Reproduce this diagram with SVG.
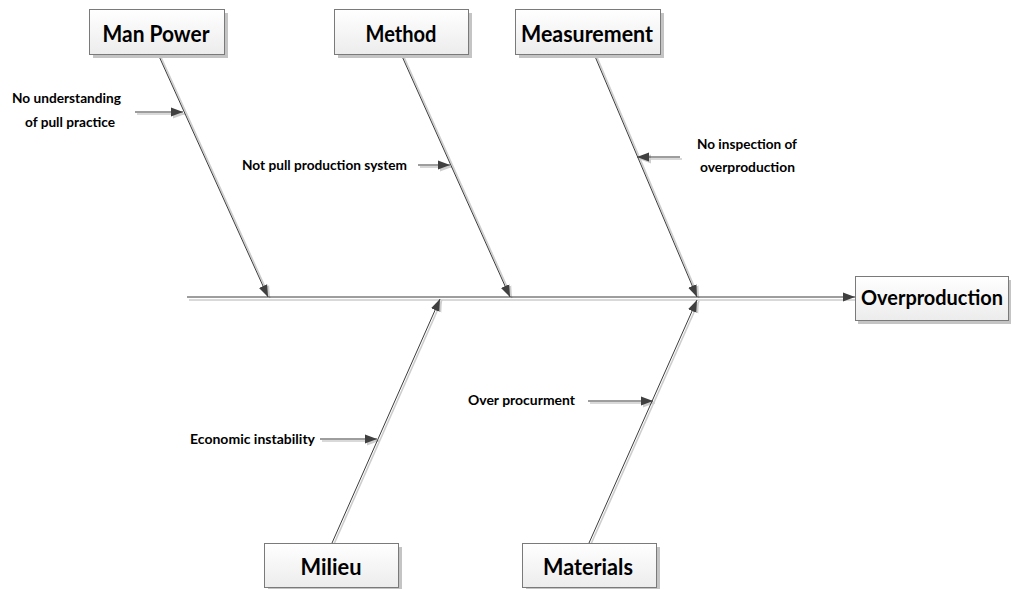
<svg xmlns="http://www.w3.org/2000/svg" width="1015" height="589" viewBox="0 0 1015 589">
  <style>
    .box { fill: url(#boxFill); stroke: #7a7a7a; stroke-width: 1; }
    .boxShadow { fill: #c4c4c4; }
    .title { font-family: Lato, "Open Sans", sans-serif; font-weight: bold; font-size: 22px; fill: #000; text-anchor: middle; }
    .label { font-family: Lato, "Open Sans", sans-serif; font-weight: bold; font-size: 13px; fill: #000; }
    .line { stroke: #3c3c3c; stroke-width: 1; fill: none; }
    .shadow { stroke: #cdcdcd; stroke-width: 1.6; fill: none; }
  </style>
  <defs>
    <linearGradient id="boxFill" x1="0" y1="0" x2="0" y2="1">
      <stop offset="0" stop-color="#ffffff"/>
      <stop offset="1" stop-color="#ececec"/>
    </linearGradient>
    <marker id="head" markerUnits="userSpaceOnUse" markerWidth="13" markerHeight="10" refX="12" refY="5" orient="auto">
      <path d="M0,0.5 L12,5 L0,9.5 Z" fill="#404040"/>
    </marker>
    <marker id="headShadow" markerUnits="userSpaceOnUse" markerWidth="13" markerHeight="10" refX="12" refY="5" orient="auto">
      <path d="M0,0.5 L12,5 L0,9.5 Z" fill="#cdcdcd"/>
    </marker>
  </defs>
  <rect width="1015" height="589" fill="#ffffff"/>

  <!-- connectors: soft shadow copy first, then the dark strokes -->
  <g id="connectors">
    <g transform="translate(2,3)">
      <line class="shadow" x1="187" y1="297" x2="855" y2="297"/>
    </g>
    <g transform="translate(2,1)">
      <line class="shadow" x1="158" y1="54" x2="268" y2="297" marker-end="url(#headShadow)"/>
      <line class="shadow" x1="401" y1="54" x2="510" y2="297" marker-end="url(#headShadow)"/>
      <line class="shadow" x1="594" y1="54" x2="697" y2="297" marker-end="url(#headShadow)"/>
      <line class="shadow" x1="332" y1="543" x2="440" y2="299" marker-end="url(#headShadow)"/>
      <line class="shadow" x1="589" y1="543" x2="697" y2="300" marker-end="url(#headShadow)"/>
      <line class="shadow" x1="135" y1="113" x2="183" y2="113" marker-end="url(#headShadow)"/>
      <line class="shadow" x1="418" y1="166" x2="450" y2="166" marker-end="url(#headShadow)"/>
      <line class="shadow" x1="680" y1="158" x2="637" y2="158" marker-end="url(#headShadow)"/>
      <line class="shadow" x1="320" y1="440" x2="377" y2="440" marker-end="url(#headShadow)"/>
      <line class="shadow" x1="588" y1="402" x2="653" y2="402" marker-end="url(#headShadow)"/>
    </g>
    <line class="line" x1="187" y1="297" x2="855" y2="297" marker-end="url(#head)"/>
    <line class="line" x1="158" y1="54" x2="268" y2="297" marker-end="url(#head)"/>
    <line class="line" x1="401" y1="54" x2="510" y2="297" marker-end="url(#head)"/>
    <line class="line" x1="594" y1="54" x2="697" y2="297" marker-end="url(#head)"/>
    <line class="line" x1="332" y1="543" x2="440" y2="299" marker-end="url(#head)"/>
    <line class="line" x1="589" y1="543" x2="697" y2="300" marker-end="url(#head)"/>
    <line class="line" x1="135" y1="112" x2="183" y2="112" marker-end="url(#head)"/>
    <line class="line" x1="418" y1="165" x2="450" y2="165" marker-end="url(#head)"/>
    <line class="line" x1="680" y1="157" x2="637" y2="157" marker-end="url(#head)"/>
    <line class="line" x1="320" y1="439" x2="377" y2="439" marker-end="url(#head)"/>
    <line class="line" x1="588" y1="401" x2="653" y2="401" marker-end="url(#head)"/>
  </g>

  <!-- cause category boxes -->
  <g id="man-power">
    <rect class="boxShadow" x="93" y="13" width="135" height="45"/>
    <rect class="box" x="89.5" y="9.5" width="135" height="45"/>
    <text class="title" x="156" y="42" textLength="107" lengthAdjust="spacingAndGlyphs">Man Power</text>
  </g>
  <g id="method">
    <rect class="boxShadow" x="338" y="13" width="134" height="45"/>
    <rect class="box" x="334.5" y="9.5" width="134" height="45"/>
    <text class="title" x="401" y="42" textLength="71" lengthAdjust="spacingAndGlyphs">Method</text>
  </g>
  <g id="measurement">
    <rect class="boxShadow" x="519" y="13" width="145" height="45"/>
    <rect class="box" x="515.5" y="9.5" width="145" height="45"/>
    <text class="title" x="587" y="42" textLength="132" lengthAdjust="spacingAndGlyphs">Measurement</text>
  </g>
  <g id="overproduction">
    <rect class="boxShadow" x="858" y="280" width="153" height="44"/>
    <rect class="box" x="855.5" y="276.5" width="153" height="44"/>
    <text class="title" x="932" y="305" style="font-size:20.5px" textLength="142" lengthAdjust="spacingAndGlyphs">Overproduction</text>
  </g>
  <g id="milieu">
    <rect class="boxShadow" x="268" y="547" width="134" height="44"/>
    <rect class="box" x="264.5" y="543.5" width="134" height="44"/>
    <text class="title" x="331" y="575" textLength="61" lengthAdjust="spacingAndGlyphs">Milieu</text>
  </g>
  <g id="materials">
    <rect class="boxShadow" x="526" y="547" width="134" height="44"/>
    <rect class="box" x="522.5" y="543.5" width="134" height="44"/>
    <text class="title" x="588" y="575" textLength="90" lengthAdjust="spacingAndGlyphs">Materials</text>
  </g>

  <!-- individual causes -->
  <g id="cause-pull-practice">
    <text class="label" x="12" y="103" textLength="109" lengthAdjust="spacingAndGlyphs">No understanding</text>
    <text class="label" x="25" y="127" textLength="90" lengthAdjust="spacingAndGlyphs">of pull practice</text>
  </g>
  <g id="cause-pull-system">
    <text class="label" x="242" y="170" textLength="165" lengthAdjust="spacingAndGlyphs">Not pull production system</text>
  </g>
  <g id="cause-inspection">
    <text class="label" x="697" y="149" textLength="100" lengthAdjust="spacingAndGlyphs">No inspection of</text>
    <text class="label" x="700" y="172" textLength="95" lengthAdjust="spacingAndGlyphs">overproduction</text>
  </g>
  <g id="cause-economy">
    <text class="label" x="190" y="444" textLength="125" lengthAdjust="spacingAndGlyphs">Economic instability</text>
  </g>
  <g id="cause-procurement">
    <text class="label" x="468" y="405" textLength="107" lengthAdjust="spacingAndGlyphs">Over procurment</text>
  </g>
</svg>
